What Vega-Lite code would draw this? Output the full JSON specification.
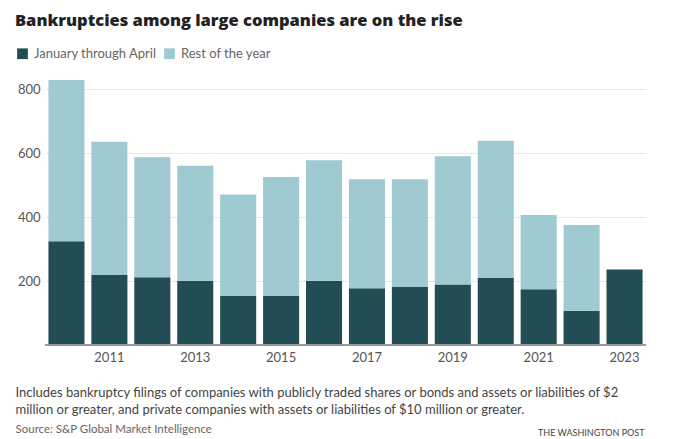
{
  "$schema": "https://vega.github.io/schema/vega-lite/v6.json",
  "width": 601,
  "height": 272,
  "autosize": {"type": "none"},
  "padding": {"left": 45, "top": 73, "right": 54, "bottom": 94},
  "background": "white",
  "config": {
    "font": "Lato",
    "view": {"stroke": null}
  },
  "title": {
    "text": "Bankruptcies among large companies are on the rise",
    "anchor": "start",
    "frame": "group",
    "dx": -30,
    "offset": 18,
    "font": "Open Sans",
    "fontSize": 16.5,
    "fontWeight": 800,
    "color": "#222222"
  },
  "data": {
    "values": [
      {"year": 2010, "period": "January through April", "count": 324},
      {"year": 2010, "period": "Rest of the year", "count": 504},
      {"year": 2011, "period": "January through April", "count": 219},
      {"year": 2011, "period": "Rest of the year", "count": 416},
      {"year": 2012, "period": "January through April", "count": 212},
      {"year": 2012, "period": "Rest of the year", "count": 375},
      {"year": 2013, "period": "January through April", "count": 201},
      {"year": 2013, "period": "Rest of the year", "count": 359},
      {"year": 2014, "period": "January through April", "count": 154},
      {"year": 2014, "period": "Rest of the year", "count": 316},
      {"year": 2015, "period": "January through April", "count": 154},
      {"year": 2015, "period": "Rest of the year", "count": 371},
      {"year": 2016, "period": "January through April", "count": 201},
      {"year": 2016, "period": "Rest of the year", "count": 376},
      {"year": 2017, "period": "January through April", "count": 177},
      {"year": 2017, "period": "Rest of the year", "count": 341},
      {"year": 2018, "period": "January through April", "count": 181},
      {"year": 2018, "period": "Rest of the year", "count": 337},
      {"year": 2019, "period": "January through April", "count": 189},
      {"year": 2019, "period": "Rest of the year", "count": 401},
      {"year": 2020, "period": "January through April", "count": 209},
      {"year": 2020, "period": "Rest of the year", "count": 429},
      {"year": 2021, "period": "January through April", "count": 174},
      {"year": 2021, "period": "Rest of the year", "count": 232},
      {"year": 2022, "period": "January through April", "count": 107},
      {"year": 2022, "period": "Rest of the year", "count": 268},
      {"year": 2023, "period": "January through April", "count": 236}
    ]
  },
  "layer": [
    {
      "mark": {"type": "bar"},
      "encoding": {
        "x": {
          "field": "year",
          "type": "ordinal",
          "scale": {"paddingInner": 0.16, "paddingOuter": 0.08},
          "axis": {
            "values": [2011, 2013, 2015, 2017, 2019, 2021, 2023],
            "labelAngle": 0,
            "ticks": false,
            "domain": false,
            "grid": false,
            "labelFont": "Lato",
            "labelFontSize": 13,
            "labelColor": "#555555",
            "labelPadding": 6,
            "title": [
              "Includes bankruptcy filings of companies with publicly traded shares or bonds and assets or liabilities of $2",
              "million or greater, and private companies with assets or liabilities of $10 million or greater."
            ],
            "titleFont": "Lato",
            "titleFontSize": 13,
            "titleFontWeight": "normal",
            "titleColor": "#444444",
            "titleAnchor": "start",
            "titleAlign": "left",
            "titleBaseline": "alphabetic",
            "titleX": -30,
            "titleY": 51,
            "titleLineHeight": 17
          }
        },
        "y": {
          "field": "count",
          "type": "quantitative",
          "stack": "zero",
          "scale": {"domain": [0, 850], "nice": false},
          "axis": {
            "values": [200, 400, 600, 800],
            "grid": true,
            "gridColor": "#e8e8e8",
            "ticks": false,
            "domain": false,
            "labelFont": "Lato",
            "labelFontSize": 13,
            "labelColor": "#555555",
            "labelPadding": 5,
            "title": "Source: S&P Global Market Intelligence",
            "titleFont": "Lato",
            "titleFontSize": 11.5,
            "titleFontWeight": "normal",
            "titleColor": "#666666",
            "titleAngle": 0,
            "titleAlign": "left",
            "titleBaseline": "alphabetic",
            "titleX": -30,
            "titleY": 359
          }
        },
        "color": {
          "field": "period",
          "type": "nominal",
          "scale": {
            "domain": ["January through April", "Rest of the year"],
            "range": ["#234d55", "#9fcad2"]
          },
          "legend": {
            "orient": "none",
            "legendX": -29,
            "legendY": -26,
            "direction": "horizontal",
            "title": null,
            "symbolType": "square",
            "symbolSize": 115,
            "symbolStrokeWidth": 0,
            "labelFont": "Lato",
            "labelFontSize": 13,
            "labelColor": "#666666",
            "labelOffset": 5,
            "columnPadding": 6
          }
        },
        "order": {"field": "period", "sort": "ascending"}
      }
    },
    {
      "mark": {"type": "rule", "color": "#999999", "strokeWidth": 1},
      "encoding": {
        "y": {
          "datum": 0,
          "type": "quantitative",
          "axis": {
            "orient": "right",
            "labels": false,
            "ticks": false,
            "domain": false,
            "grid": false,
            "title": "THE WASHINGTON POST",
            "titleFont": "Lato",
            "titleFontSize": 9,
            "titleFontWeight": "normal",
            "titleColor": "#444444",
            "titleAngle": 0,
            "titleAlign": "right",
            "titleBaseline": "alphabetic",
            "titleX": -2,
            "titleY": 362
          }
        }
      }
    }
  ],
  "resolve": {"axis": {"y": "independent"}}
}
